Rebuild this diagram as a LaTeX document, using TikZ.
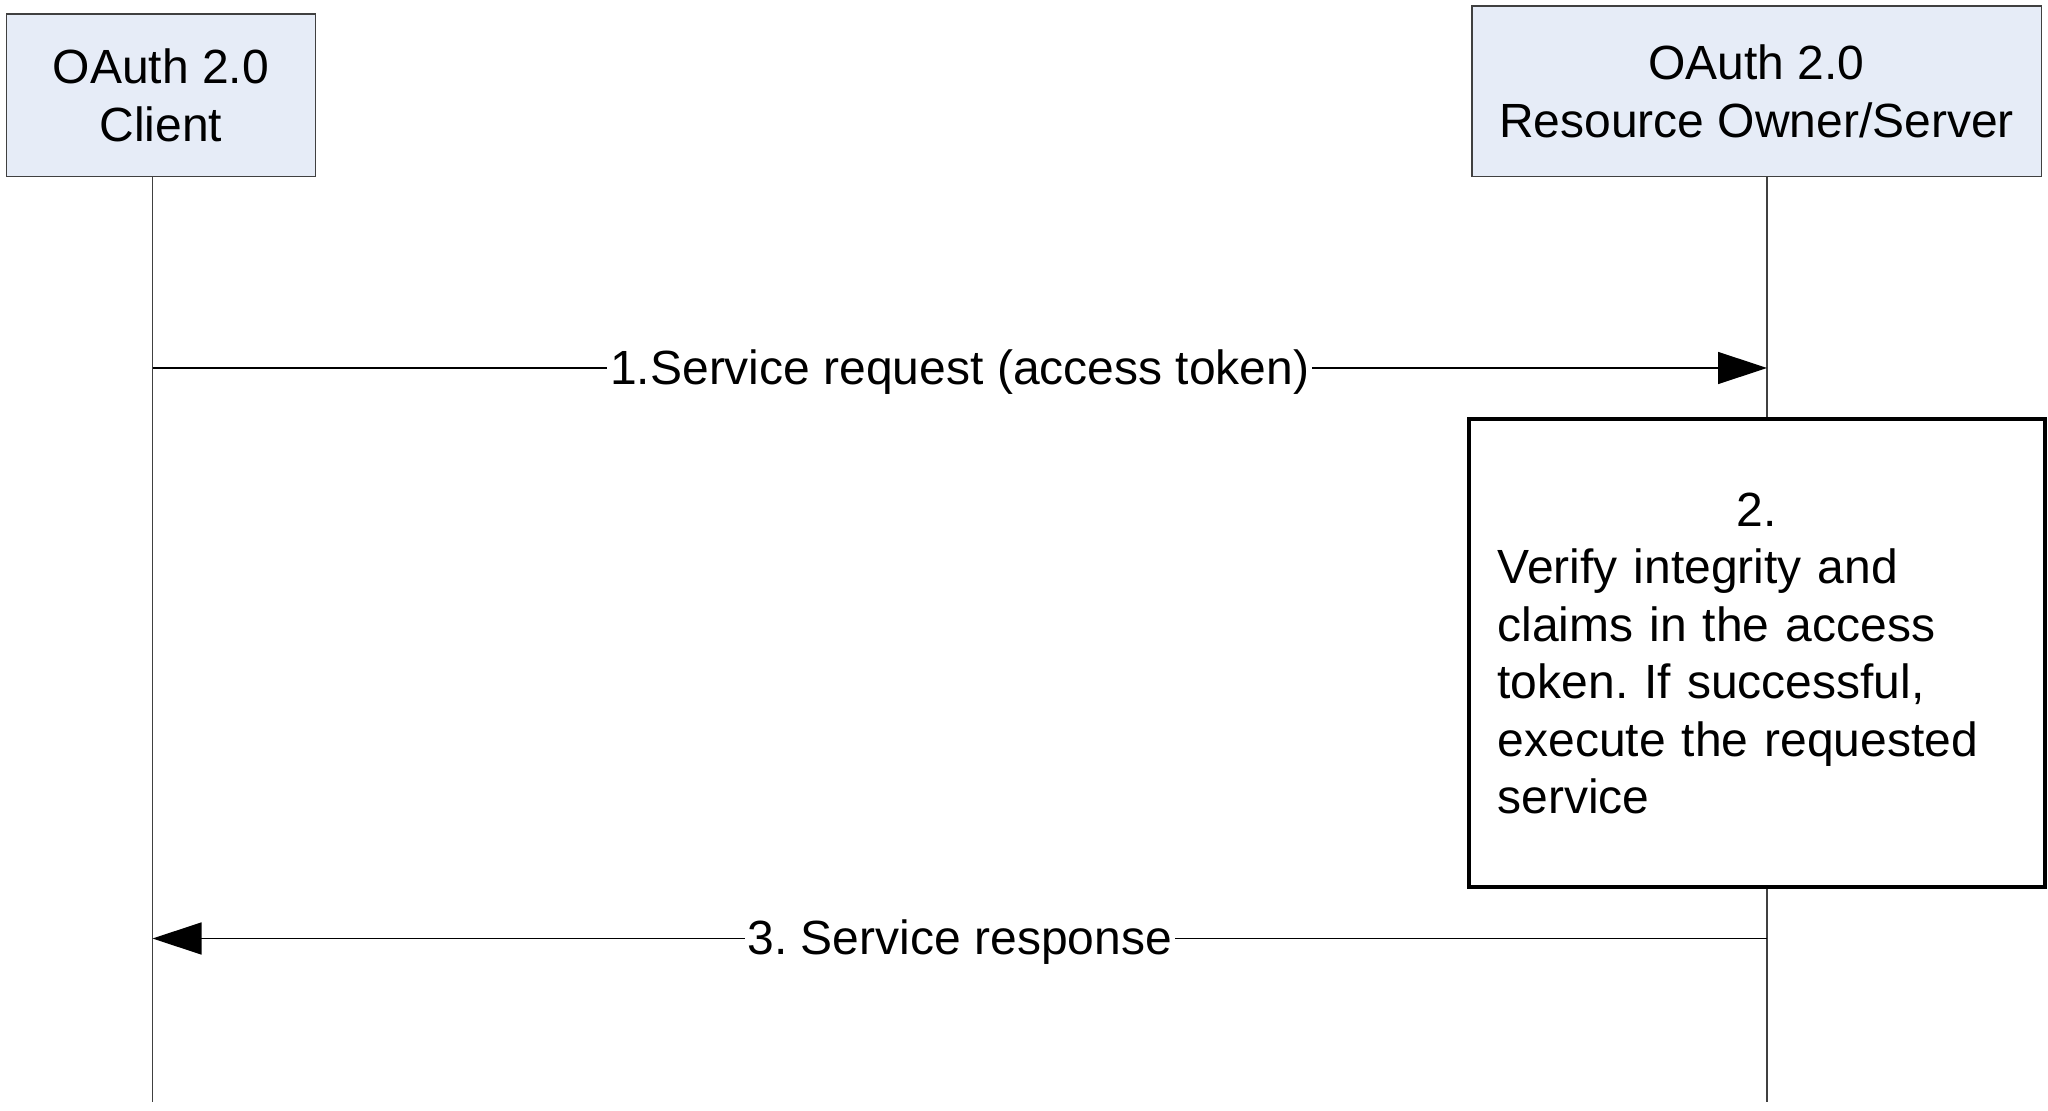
\documentclass[tikz,border=0pt]{standalone}
\usepackage{fontspec}
\setmainfont{Liberation Sans}
\usetikzlibrary{
    positioning,
    arrows.meta
}
\definecolor{actorfill}{RGB}{230,236,247}
\definecolor{lifegray}{RGB}{64,64,64}
\frenchspacing

\begin{document}
\begin{tikzpicture}[
    x=0.5pt,
    y=-0.5pt,
    every node/.style={
        font=\fontsize{24pt}{28.75pt}\selectfont,
    },
    actor/.style={
        rectangle,
        draw=lifegray,
        line width=0.65pt,
        fill=actorfill,
        align=center,
        inner sep=0pt,
    },
    lifeline/.style={
        draw=lifegray,
        line width=0.75pt,
    },
    process/.style={
        rectangle,
        draw,
        fill=white,
        line width=2pt,
        minimum width=288pt,
        minimum height=234pt,
        text width=259pt,
        inner sep=0pt,
        align=left,
    },
    msg/.style={
        draw,
        line width=0.65pt,
        -{Triangle[length=24.5pt,width=16pt]},
    },
    msglabel/.style={
        fill=white,
        inner sep=1.5pt,
        yshift=-2pt,
    },
]
    \useasboundingbox (0,0) rectangle (2048,1111);

    \node[actor, minimum width=154.5pt, minimum height=81.3pt] (client) at (160.8,95.4) {OAuth 2.0\\Client};
    \node[actor, minimum width=284.7pt, minimum height=85.3pt] (server) at (1756.6,91.3) {OAuth 2.0\\Resource Owner/Server};

    \coordinate (client-top) at (152.5,176.7);
    \coordinate (client-end) at (152.5,1102);
    \coordinate (server-top) at (1767,176.7);
    \coordinate (server-end) at (1767,1102);

    \draw[lifeline] (client-top) -- (client-end);
    \draw[lifeline] (server-top) -- (server-end);

    \node[process] (verify) [below=120pt of server] {\makebox[\hsize]{2.}\\Verify integrity and\\claims in the access\\token. If successful,\\execute the requested\\service};

    \coordinate (req-from)  at (152.5,368);
    \coordinate (req-to)    at (1767,368);
    \coordinate (resp-from) at (1767,938.5);
    \coordinate (resp-to)   at (152.5,938.5);

    \draw[msg] (req-from) -- node[msglabel] {1.Service request (access token)} (req-to);
    \draw[msg] (resp-from) -- node[msglabel] {3. Service response} (resp-to);

\end{tikzpicture}
\end{document}
